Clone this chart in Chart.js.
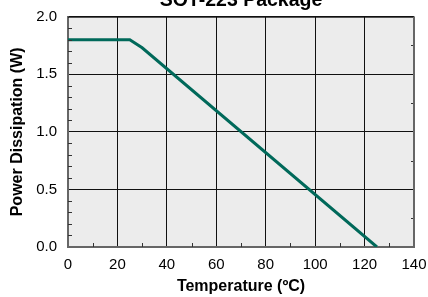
<!DOCTYPE html>
<html>
<head>
<meta charset="utf-8">
<script src="https://cdn.jsdelivr.net/npm/chart.js@4"></script>
<style>
  html, body { margin: 0; padding: 0; background: #fff; }
  #wrap { width: 428px; height: 297px; }
</style>
</head>
<body>
<div id="wrap"><canvas id="c" width="428" height="297"></canvas></div>
<script>
// derating curve
const temps = [0, 25, 30, 125]
const power = [1.8, 1.8, 1.73, 0]
const xTicks = [0, 20, 40, 60, 80, 100, 120, 140]
const yTicks = [0, 0.5, 1.0, 1.5, 2.0]
const xMinor = [10, 30, 50, 70, 90, 110, 130]
const yMinor = [0.1, 0.2, 0.3, 0.4, 0.6, 0.7, 0.8, 0.9, 1.1, 1.2, 1.3, 1.4, 1.6, 1.7, 1.8, 1.9]
const yRightMinor = [0.25, 0.75, 1.25, 1.75]

const FONT = "'Liberation Sans', Arial, sans-serif"

const frame = {
  id: 'frame',
  beforeDraw(chart) {
    const {ctx, chartArea: a} = chart
    ctx.save()
    ctx.fillStyle = '#ececec'
    ctx.fillRect(a.left, a.top, a.right - a.left, a.bottom - a.top)
    ctx.restore()
  },
  afterDatasetsDraw(chart) {
    // minor ticks pointing inward, plus the frame edges
    const {ctx, chartArea: a, scales: {x, y}} = chart
    ctx.save()
    ctx.strokeStyle = '#333'
    ctx.lineWidth = 1
    ctx.beginPath()
    xMinor.forEach(v => {
      const px = Math.round(x.getPixelForValue(v)) + 0.5
      ctx.moveTo(px, a.bottom); ctx.lineTo(px, a.bottom - 4)
    })
    yMinor.forEach(v => {
      const py = Math.round(y.getPixelForValue(v)) + 0.5
      ctx.moveTo(a.left, py); ctx.lineTo(a.left + 4, py)
    })
    yRightMinor.forEach(v => {
      const py = Math.round(y.getPixelForValue(v)) + 0.5
      ctx.moveTo(a.right, py); ctx.lineTo(a.right - 3, py)
    })
    ctx.stroke()
    ctx.strokeStyle = '#111'
    ctx.beginPath()
    ctx.moveTo(a.left, a.top + 0.5); ctx.lineTo(a.right, a.top + 0.5)
    ctx.stroke()
    ctx.strokeStyle = '#666'
    ctx.lineWidth = 2
    ctx.beginPath()
    ctx.moveTo(a.right, a.top); ctx.lineTo(a.right, a.bottom)
    ctx.stroke()
    ctx.restore()
  }
}

new Chart(document.getElementById('c'), {
  type: 'line',
  data: {
    datasets: [{
      data: temps.map((t, i) => ({x: t, y: power[i]})),
      borderColor: '#00695a',
      borderWidth: 3,
      pointRadius: 0,
      fill: false,
      tension: 0
    }]
  },
  options: {
    responsive: false,
    animation: false,
    layout: {padding: {left: 0, right: 14, top: 0, bottom: 0}},
    plugins: {
      legend: {display: false},
      tooltip: {enabled: false},
      title: {
        display: true,
        fullSize: false,
        text: 'SOT-223 Package',
        color: '#000',
        font: {family: FONT, size: 19.5, weight: 'bold', lineHeight: 1.2},
        padding: {top: -11.2, bottom: 4.5}
      }
    },
    scales: {
      x: {
        type: 'linear',
        min: 0, max: 140,
        afterBuildTicks: s => { s.ticks = xTicks.map(v => ({value: v})) },
        afterFit: s => { s.height = 50; s.paddingLeft = 0; s.paddingRight = 0 },
        ticks: {
          color: '#000', padding: 9,
          font: {family: FONT, size: 15}
        },
        grid: {color: '#111', lineWidth: 1, drawTicks: false},
        border: {display: true, color: '#666', width: 2},
        title: {
          display: true, text: 'Temperature (ºC)', color: '#000',
          font: {family: FONT, size: 16, weight: 'bold', lineHeight: 1.2},
          padding: {top: 0, bottom: 0.4}
        }
      },
      y: {
        min: 0, max: 2,
        afterBuildTicks: s => { s.ticks = yTicks.map(v => ({value: v})) },
        afterFit: s => { s.width = 68; s.paddingTop = 0; s.paddingBottom = 0 },
        ticks: {
          color: '#000', padding: 11,
          font: {family: FONT, size: 15},
          callback: v => v.toFixed(1)
        },
        grid: {color: '#111', lineWidth: 1, drawTicks: false},
        border: {display: true, color: '#666', width: 2},
        title: {
          display: true, text: 'Power Dissipation (W)', color: '#000',
          font: {family: FONT, size: 16, weight: 'bold', lineHeight: 1.2},
          padding: {top: 8.4, bottom: 0}
        }
      }
    }
  },
  plugins: [frame]
})
</script>
</body>
</html>
